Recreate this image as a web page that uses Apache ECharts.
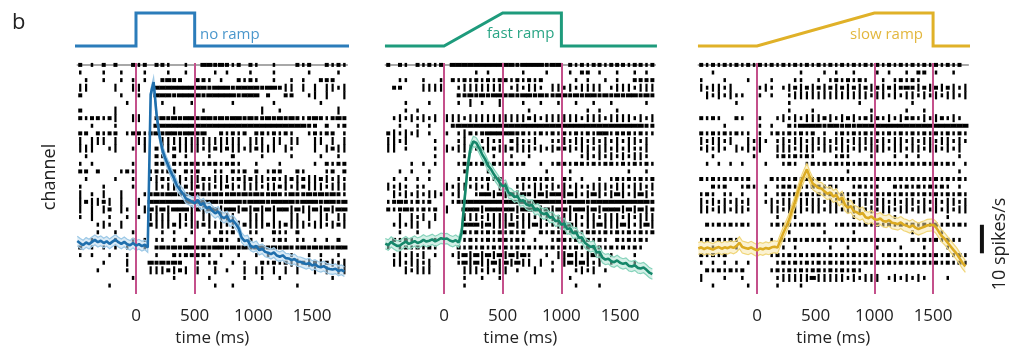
<!DOCTYPE html>
<html>
<head>
<meta charset="utf-8">
<script src="https://cdn.jsdelivr.net/npm/echarts@6/dist/echarts.min.js"></script>
<style>
  html, body { margin: 0; padding: 0; background: #fff; }
  #chart { width: 1009px; height: 352px; }
</style>
</head>
<body>
<div id="chart"></div>
<script>
// time base of the rate curves (25 ms steps, -500 .. 1775 ms)
var timeMs = [];
for (var k = 0; k < 92; k++) timeMs.push(-500 + 25 * k);

// firing rate, spikes/s
var rateNoRamp = [18.6, 17.8, 17.2, 18.1, 17.5, 18.3, 19.0, 18.2, 18.7, 17.9,
  18.5, 17.6, 18.4, 19.1, 18.2, 17.6, 18.3, 17.5, 17.1, 17.9,
  17.0, 17.5, 16.8, 17.3, 16.3, 70, 74.3, 63, 55.5, 50.5,
  47.5, 45, 42.5, 40.5, 38, 36.5, 35.2, 33.5, 33.0, 32.4,
  31.8, 33.0, 31.2, 31.9, 30.1, 30.6, 29.2, 28.3, 29.0, 27.3,
  26.6, 27.4, 25.4, 25.9, 24.6, 23.0, 19.8, 18.6, 18.9, 17.0,
  16.4, 16.9, 15.4, 15.9, 14.8, 14.5, 14.0, 14.6, 13.5, 13.1,
  13.6, 12.6, 12.5, 11.9, 12.3, 11.4, 11.3, 10.9, 10.5, 10.9,
  10.0, 10.4, 9.7, 9.4, 9.8, 9.1, 8.8, 8.6, 8.9, 8.1,
  8.5, 7.9];
var rateFastRamp = [17.7, 17.2, 18.3, 17.5, 16.9, 17.0, 17.8, 18.4, 17.6, 18.0,
  18.6, 17.9, 18.3, 19.0, 18.4, 18.7, 19.2, 18.5, 19.0, 19.6,
  19.3, 19.5, 18.8, 18.4, 18.9, 18.1, 21.5, 33, 44, 51,
  53.5, 53.0, 51.2, 49.0, 47.3, 45.0, 43.8, 42.0, 40.5, 39.0,
  37.8, 38.2, 35.5, 35.1, 34.0, 34.4, 32.6, 32.9, 31.5, 31.0,
  31.3, 29.5, 29.9, 28.6, 28.0, 28.4, 26.8, 27.0, 25.5, 25.9,
  24.3, 24.8, 22.8, 23.1, 21.3, 21.6, 19.7, 19.9, 18.0, 17.2,
  16.5, 16.9, 14.6, 14.8, 12.8, 12.1, 12.4, 11.5, 11.2, 11.8,
  11.0, 10.6, 10.9, 9.9, 9.7, 10.1, 9.2, 9.0, 9.3, 8.5,
  7.5, 7.0];
var rateSlowRamp = [16.0, 16.4, 15.8, 16.3, 16.0, 15.6, 16.2, 16.5, 15.9, 16.4,
  16.1, 16.6, 16.2, 16.8, 18.0, 16.5, 16.2, 15.9, 16.4, 15.8,
  15.3, 16.0, 15.7, 16.2, 15.9, 16.4, 16.6, 16.3, 19.0, 21.5,
  23.8, 26.2, 29.5, 32.5, 36.0, 39.0, 41.5, 43.7, 41.0, 38.7,
  38.0, 37.2, 37.0, 36.0, 35.2, 35.6, 34.2, 34.8, 33.0, 33.9,
  31.2, 30.3, 30.8, 29.0, 28.7, 28.0, 28.4, 26.9, 26.6, 27.2,
  26.3, 26.0, 26.5, 25.6, 25.4, 25.9, 25.0, 24.8, 24.5, 25.1,
  24.3, 24.0, 23.5, 24.1, 23.3, 22.8, 23.2, 23.6, 24.1, 24.2,
  24.3, 23.4, 21.8, 20.3, 19.3, 18.0, 16.7, 15.4, 14.2, 12.6,
  11.0, 9.7];
// half width of the shaded confidence band, spikes/s
var ciNoRamp = 1.7, ciFastRamp = 1.8, ciSlowRamp = 2.1;

// spike rasters: one string per row, one char per 50 ms bin from -500 ms
// ' ' none  '.' single spike  '-' short burst  '#' dense  '|' tall tick
var rasterNoRamp = [
  "- . - -  -/.- --.  . / ##-#-.- -/.  .   -.-/  -.-.",
  ".   .  .  / .   .  . /   . .   ./   .     ./    . ",
  " .  .  . ./ .  -#--  /--. .  -.-/.  .  . . / ---  ",
  "||    |  |/|  #######/##-###-###/#-##-|| | /| ||.|",
  "-      .  /.  ###-###/#-#####-##/# -  --  ./| |  |",
  "        . /    .    ./      .   /   .      / .    ",
  "-     |   /      |   / .        / |  .     /    | ",
  "-.--.-|  |/|  -#-#-##/-##-#-##-#/--#-#-#-.-/#-.-#-",
  "  .   .   /   #######/##########/#########-/- - .-",
  "-- -.-- .-/-.-#-##-##/-#  -.-.- /--.-.-.  ./-.-- .",
  "| ||| |   /||  ||||||/|||||||| |/|| || ||  /|| | |",
  "|||  .|  ./ | -||-|||/|.|-|-||.|/-||| |.   /| |-||",
  " .        /   -. - . /  .   -   / .    .   / .  . ",
  ". .      ./   --.-.--/-.--.--.  /.   .     /. -.--",
  "-- -   .-./  .-.-- -./-  .. -.- /- .--  -. /  .- -",
  " .    .  ./  .|-.||.|/|-.|||.-|-/||.-.|-|-|/|-|.|.",
  ".   .    ./   |.|||-|/-||.|-|.||/|.||-|.|-|/||.|||",
  "| . |  |  / .-#-##--#/-#-#--#-#-/#--#-.#--#/-#-#-.",
  "|-||-| |  /| ########/####-###-#/##-####-##/#-##-#",
  "| | |- |. / |#|#|###|/#|##|##|#|/#|#|##|#||/#|#|##",
  ". |  .  . /. |||| |||/ || |||  |/|| |  || |/ || ||",
  "   .|. |  /  -|||-|.|/|-|||.||-|/||-||-|||./||.|-|",
  "   .  .  ./    . .  ./  . -.-  ./.  -.. -  /      ",
  "  .   .  ./ . .. . . / . --. . -/ . .-. .. /. . - ",
  "- . . . . / . -#-#-##/-#-##-#-#-/##-#-#--#-/#-#-##",
  ". .  .  . /   .  -.--/--. .  .  /. .   .  ./ .  . ",
  "    .   | /  #-#-#-  /. .-  . . / -.-.-||-|/-|-|.|",
  "   .    . /  |||-|-| /|  | .  | /|| | | |  /| | ||",
  "         ./      .   /  .     . / .  .     /   .  ",
  "     .    /          /   .  .   /       .  /      "
];
var rasterFastRamp = [
  "- -. -.-.-/ #########/##-####-##/ -.-.--.--/-.--.-",
  "          /     . .  /   .   .  / . -- .  ./  . . ",
  "  ..  .  ./ -.-.-.-.-/-.-.-.-   /  . .  . ./  ----",
  " --   ||||/  .|||||||/ .|.||. ||/.|.|||| .|/||.|||",
  "          /  --#-#-##/-#-##-#--#/#-#-##-#-#/-##-#-",
  "   .   .  /  . | .  |/   .  .  ./  .  .  . /    . ",
  "   . .    /          /    .     /    . .  ./      ",
  " .|.|.|.| /|||.||||||/||||-|.|||/|||.|||.||/||.|.|",
  "  .  . .  / -########/##########/##########/####--",
  "-|.|.| .  /. .|-.-###/##--..-.-./-.-.-.##.-/--.-..",
  "||.|    . /  .|  .|../ -|..|  ../|.||.|.|.|/.||.| ",
  "|| .    . /|.|||.-|-|/|-|||.|.|-/-|.||.||.|/.|..| ",
  "        . /   .    . / .  .     /   .|.|.|./|.||. ",
  "    . . . /  .--.-.-./.-.-  . .-/-.--.-.--./-.-.-.",
  "  . .  .  /   .   .  /       .  / .        / .  . ",
  " . . . .  /  . ...-.-/  .-.-.-. /-. .  . .-/.-.-.-",
  "|.|. ..   /|.||.|.| |/| .|.||.|./|.|..|||.|/|.||.|",
  " |.|.|.||./ .|  .##|#/|#|#-|#|##/|#|.|#|.|#/|.|#|.",
  ".-#-.-.-  / .-#######/####-#####/-###-#####/#####-",
  "-.-#-.-.- /|  ###|###/##|###|#|#/#|##|#|###/|#|#|-",
  "  | |.| | /   |||.|||/||.||.|||./|||.||.|||/.|.|||",
  " .|.|| |  /   ###|#||/|#|||#|..|/|#|.||#|||/#|.|#|",
  "  .  .    /   -.-.-.-/.-.-  -.-./-.-.--.-.-/.-.-.-",
  " -.-.   . /   .-..-.-/-.-. .  .-/-.-.-.-. -/.-.-. ",
  ". .-.-.-. /  -.-.-.-./-.-.-.-.-./-.-.-.-.-./-.-.  ",
  " .|.|.| . / .|#|#|#|#/|#|#.  . |/|#|.|#| . /  .   ",
  " ||.||.|  /  .#|#||#|/#|#|| | . /|#|#|.| . /  .   ",
  "   |.|||  /   |||.|.|/| .  |  . /  .|.| .  /      ",
  "          /   .  .  ./          / .        /      ",
  "          /   .      /          /  .   .   /      "
];
var rasterSlowRamp = [
  "-.-.-.-.-./-.-.-.-.-./-.-.-.-.-./-.-.-.-.-./-.-.- ",
  "  .       /       .  / . .  .   /. .  . -- /.  .  ",
  ".   .   . /  .   ..  /. .-.-.-. / . .-.-.  /      ",
  "|.||.|    /.|. .|-|-|/-|-|-|-|-|/-|-|-#-|-|/-|-|.|",
  " |.|.|..  /. .  .||||/|||||||||./||.|.||.|./|.||.|",
  "      .   /     .    /       .  /      .   /      ",
  "          /     .   ./         ./     .  . /      ",
  "-.-.  -.  /.  .|.|.||/|-|.|-|.-|/-.|.|--.|./|-.|. ",
  "    .     /. .  -.###/#-##-#-###/##########/######",
  "-.-.-.-.. /. .-.-.-.-/ . .-.-.-./-.-.-.-.-./-.-.-.",
  "|.||.|  |./|. .|.||.|/||.||.||||/.|.||.|.||/.||.|.",
  ".|.|. |.|./|  |||.|||/.||.||.|.|/||.||.||.|/|.|.| ",
  "  .      ./   .-.-.-./   .-.   ./   . . .  /    . ",
  " . . . .  / .  .-. .-/.-.-.-.--./-.-.-.-.-./-.-. .",
  "          /          /     .    /          /    . ",
  "-.-.-.-.- /  -.-.-.-./-.-.-.-.-./-.-.-.-.-./-.-.-.",
  "  -.-  .-./ . .--.-.-/-.-.  .-../.  -.-.-.-/.-. . ",
  ".-. .. .  / . .-.-.-./-.-.-.-.-./-.-.-.-.-./-.-.-.",
  "|.|.|.|.| / .|.||.|||/|.||.|.||./||.|.||.|./|.||.|",
  "||.||.||. /  ||.|||.|/|.||.|||.|/.||.||.||./|.|.||",
  "          /   .  .   /      .   /   .      /  .   ",
  " -.-.-.-. /  .-.-.-.-/-. .-.-.-./-.-.-.-.-./-.-.-.",
  "          /     .    / .    .   /      .   / .    ",
  ".-.-.-.   /  . -.-.-./-.-.-.-.-./-.-.  -.-./-.-.. ",
  "  .   .   /    . .   /  .  .    /.   .   . /  .   ",
  "-.-.-     /  .-.-.-.-/-.-.-.-.-./ .-.-.-.-./-.-.-.",
  ". . . . . /   .-.-.-./-.-.-.-.-./-.-.-.-.-./-.-.-.",
  " -.-.-.-  /  .-.-.-.-/-.-.-.-.  /          /      ",
  "|   .  .  /   .|||||#/|||||.|.||/| .|.|.|. /  .   ",
  "  .     . /   .   .  /          /          /      "
];

// event markers (ms) and stimulus profiles (time ms, relative level)
var markersNoRamp = [0, 500];
var markersFastRamp = [0, 500, 1000];
var markersSlowRamp = [0, 1000, 1500];
var stimNoRampT = [-537, 0, 0, 500, 500, 1831];
var stimNoRampLevel = [0, 0, 1, 1, 0, 0];
var stimFastRampT = [-503, 0, 500, 1000, 1000, 1814];
var stimFastRampLevel = [0, 0, 1, 1, 0, 0];
var stimSlowRampT = [-503, 0, 1000, 1500, 1500, 1857];
var stimSlowRampLevel = [0, 0, 1, 1, 0, 0];

// 10 spikes/s scale bar next to the last panel
var scaleBarTime = 1916, scaleBarBase = 14.3, scaleBarLength = 10;

var FONT = 'Open Sans';
var KINDS = '.-#|';
var KIND_SIZE = [[2.5, 4], [4, 4], [6.2, 4], [2.2, 8]];

var panels = [
  { raster: rasterNoRamp, rate: rateNoRamp, ci: ciNoRamp, markers: markersNoRamp,
    stimT: stimNoRampT, stimL: stimNoRampLevel, left: 77.3,
    line: '#1f6fad', band: '#9cc8e6', fill: 'rgba(190,218,238,0.55)', stim: '#2b7cba' },
  { raster: rasterFastRamp, rate: rateFastRamp, ci: ciFastRamp, markers: markersFastRamp,
    stimT: stimFastRampT, stimL: stimFastRampLevel, left: 385.3,
    line: '#15876a', band: '#86d3bb', fill: 'rgba(170,226,208,0.5)', stim: '#1e9b7c' },
  { raster: rasterSlowRamp, rate: rateSlowRamp, ci: ciSlowRamp, markers: markersSlowRamp,
    stimT: stimSlowRampT, stimL: stimSlowRampLevel, left: 698.3,
    line: '#dcab22', band: '#f0d67a', fill: 'rgba(248,230,165,0.5)', stim: '#e0b128' }
];

function rasterPoints(rows) {
  var pts = [];
  rows.forEach(function(row, r) {
    var s = row.replace(/\//g, '');
    for (var b = 0; b < 46 && b < s.length; b++) {
      var kind = KINDS.indexOf(s[b]);
      if (kind >= 0) pts.push([-500 + 50 * b + 25, r, kind]);
    }
  });
  return pts;
}

function pairs(xs, ys) {
  return xs.map(function(x, i) { return [x, ys[i]]; });
}

// shaded band (rate +/- ci) drawn through the axis scales
function bandRenderer(p) {
  return function(params, api) {
    var upper = [], lower = [];
    for (var j = 0; j < timeMs.length; j++) {
      upper.push(api.coord([timeMs[j], p.rate[j] + p.ci]));
      lower.push(api.coord([timeMs[j], p.rate[j] - p.ci]));
    }
    return {
      type: 'group',
      children: [
        { type: 'polygon', shape: { points: upper.concat(lower.slice().reverse()) },
          style: { fill: p.fill } },
        { type: 'polyline', shape: { points: upper }, style: { stroke: p.band, lineWidth: 1.2, fill: null } },
        { type: 'polyline', shape: { points: lower }, style: { stroke: p.band, lineWidth: 1.2, fill: null } }
      ]
    };
  };
}

var grid = [], xAxis = [], yAxis = [], series = [];

panels.forEach(function(p, i) {
  grid.push({ left: p.left, width: 270, top: 63, height: 243 });
  xAxis.push({
    type: 'value', gridIndex: i, min: -500, max: 1800, interval: 500,
    axisLine: { lineStyle: { color: '#8c8c8c', width: 1.5 } },
    axisTick: { show: false },
    splitLine: { show: false },
    axisLabel: {
      margin: 14, fontSize: 17, fontFamily: FONT, color: '#222',
      formatter: function(v) { return (v < 0 || v > 1500) ? '' : String(v); }
    },
    name: 'time (ms)', nameLocation: 'middle', nameGap: 33,
    nameTextStyle: { fontSize: 17, fontFamily: FONT, color: '#222' }
  });
  // raster rows
  yAxis[i] = { type: 'value', gridIndex: i, min: -0.25, max: 30.125, inverse: true, show: false };
  // firing rate
  yAxis[3 + i] = { type: 'value', gridIndex: i, min: 0, max: 81, show: false };
});

panels.forEach(function(p, i) {
  grid.push({ left: p.left, width: 270, top: 13, height: 33 });
  xAxis.push({ type: 'value', gridIndex: 3 + i, min: -500, max: 1800, show: false });
  yAxis[6 + i] = { type: 'value', gridIndex: 3 + i, min: 0, max: 1, show: false };
});

panels.forEach(function(p, i) {
  series.push({
    type: 'scatter', xAxisIndex: i, yAxisIndex: i, silent: true, z: 2,
    symbol: 'rect',
    symbolSize: function(v) { return KIND_SIZE[v[2]]; },
    itemStyle: { color: '#000', opacity: 1 },
    data: rasterPoints(p.raster),
    markLine: {
      silent: true, symbol: ['none', 'none'], label: { show: false },
      lineStyle: { color: '#c4508b', width: 2, type: 'solid' },
      data: p.markers.map(function(m) { return { xAxis: m }; })
    }
  });
  series.push({
    type: 'custom', xAxisIndex: i, yAxisIndex: 3 + i, z: 3, silent: true,
    data: [[0, 0]],
    renderItem: bandRenderer(p)
  });
  series.push({
    type: 'line', xAxisIndex: i, yAxisIndex: 3 + i, z: 5,
    symbol: 'none', silent: true,
    lineStyle: { color: p.line, width: 2.6 },
    data: pairs(timeMs, p.rate)
  });
  series.push({
    type: 'line', xAxisIndex: 3 + i, yAxisIndex: 6 + i, clip: false,
    symbol: 'none', silent: true,
    lineStyle: { color: p.stim, width: 3, join: 'miter' },
    data: pairs(p.stimT, p.stimL)
  });
});

series.push({
  type: 'custom', xAxisIndex: 2, yAxisIndex: 5, clip: false, silent: true,
  data: [[scaleBarTime, scaleBarBase]],
  renderItem: function(params, api) {
    var a = api.coord([api.value(0), api.value(1)]);
    var b = api.coord([api.value(0), api.value(1) + scaleBarLength]);
    return { type: 'line', shape: { x1: a[0], y1: a[1], x2: b[0], y2: b[1] },
      style: { stroke: '#111', lineWidth: 4 } };
  }
});

var chart = echarts.init(document.getElementById('chart'));
chart.setOption({
  animation: false,
  backgroundColor: '#fff',
  grid: grid,
  xAxis: xAxis,
  yAxis: yAxis,
  series: series,
  graphic: [
    { type: 'text', left: 12, top: 12, style: { text: 'b', fontSize: 22, fontFamily: FONT, fill: '#222' } },
    { type: 'text', x: 200, y: 35, style: { text: 'no ramp', fontSize: 15, fontFamily: FONT, fill: '#4b97cc', verticalAlign: 'middle' } },
    { type: 'text', x: 487, y: 34, style: { text: 'fast ramp', fontSize: 15, fontFamily: FONT, fill: '#2aa585', verticalAlign: 'middle' } },
    { type: 'text', x: 850, y: 35, style: { text: 'slow ramp', fontSize: 15, fontFamily: FONT, fill: '#e3b73d', verticalAlign: 'middle' } },
    { type: 'text', x: 50, y: 177, rotation: Math.PI / 2,
      style: { text: 'channel', fontSize: 18, fontFamily: FONT, fill: '#222', align: 'center', verticalAlign: 'middle' } },
    { type: 'text', x: 1000, y: 244, rotation: Math.PI / 2,
      style: { text: '10 spikes/s', fontSize: 18, fontFamily: FONT, fill: '#222', align: 'center', verticalAlign: 'middle' } }
  ]
});
window.addEventListener('resize', function() { chart.resize(); });
</script>
</body>
</html>
